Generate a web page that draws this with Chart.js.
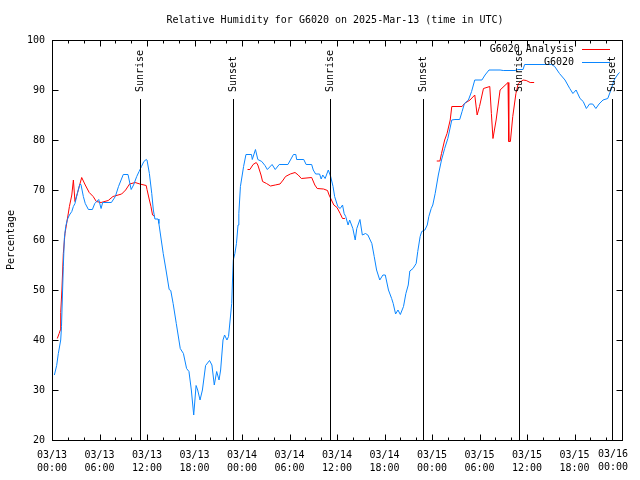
<!DOCTYPE html>
<html lang="en">
<head>
<meta charset="utf-8" />
<title>Relative Humidity for G6020</title>
<script src="https://cdn.jsdelivr.net/npm/chart.js@4.4.1/dist/chart.umd.min.js"></script>
<style>
  html, body { margin: 0; padding: 0; background: #fff; }
  canvas { display: block; }
</style>
</head>
<body>
<canvas id="rh" width="640" height="480"></canvas>
<script>
// hours since 03/13 00:00 UTC
const blueHours = [
  0.3, 0.59, 0.8, 1.1, 1.2, 1.3, 1.43, 1.56, 1.73, 1.94, 2.2, 2.5, 2.7, 2.9, 3.2, 3.5, 3.66, 3.96, 4.2, 4.6, 5.1, 5.4, 5.9, 6.2, 6.4, 7.5, 8.0, 8.4, 9.0, 9.6,
  10.0, 10.3, 10.7, 11.0, 11.3, 11.6, 11.9, 12.0, 12.3, 12.6, 12.8, 13.0, 13.4, 13.5, 13.8, 14.05, 14.4, 14.8, 15.0, 15.3, 15.7, 16.2, 16.6, 17.0, 17.3, 17.6, 17.9,
  18.2, 18.4, 18.7, 19.0, 19.4, 19.9, 20.2, 20.5, 20.8, 21.1, 21.3, 21.6, 21.8, 22.1, 22.3, 22.5, 22.7, 22.8, 22.9, 23.1, 23.3, 23.5, 23.6, 23.8,
  24.2, 24.5, 25.2, 25.3, 25.7, 26.0, 26.5, 26.9, 27.2, 27.8, 28.2, 28.7, 29.8, 30.5, 30.8, 30.9, 31.8, 32.1, 32.8, 33.0, 33.3, 33.8, 34.0, 34.2, 34.5, 34.9,
  35.2, 35.5, 35.7, 36.1, 36.4, 36.7, 36.9, 37.1, 37.4, 37.6, 38.0, 38.3, 38.5, 38.9, 39.2, 39.6, 39.9, 40.4, 40.7, 41.0, 41.4, 41.8, 42.1, 42.5, 42.9,
  43.1, 43.4, 43.7, 44.0, 44.4, 44.7, 45.0, 45.2, 45.6, 46.0, 46.2, 46.5, 46.7, 47.1, 47.4, 47.6, 47.9, 48.1, 48.4, 48.8, 49.2, 49.6, 50.0, 50.5, 50.9,
  51.5, 51.8, 52.1, 52.6, 53.0, 53.4, 54.3, 54.7, 55.2, 56.6, 57.0, 58.5, 58.8, 59.5, 59.7, 63.1, 63.5, 64.1, 64.8, 65.4, 65.8, 66.2, 66.7, 67.1, 67.5,
  67.9, 68.3, 68.7, 69.1, 69.6, 70.2, 70.6, 71.0, 71.5, 71.7
];
const blueValues = [
  33, 34.9, 37.3, 40, 42.7, 48, 54.7, 60.3, 62.7, 64.1, 65, 65.7, 66.7, 67.3, 69.3, 71.1, 71.1, 68.7, 67.3, 66.1, 66.1, 67.3, 68.1, 66.3, 67.5, 67.5, 68.7, 70.7, 73.1, 73.1,
  70.1, 71, 72.7, 73.7, 74.7, 75.7, 76.1, 76, 73.3, 69.3, 66, 64.2, 64.2, 63.3, 60, 57.3, 54, 50.1, 49.9, 47.3, 43.3, 38.3, 37.3, 34.3, 33.7, 30, 25,
  30.9, 30, 28, 30, 34.9, 35.9, 35, 31, 33.7, 32, 34, 40, 41, 40, 40.7, 44, 47.3, 52, 56, 57.3, 59.3, 63, 65.3, 70.7,
  74.7, 77.1, 77.1, 76.1, 78.1, 76.1, 75.7, 74.9, 74.1, 75.1, 74.1, 75.1, 75.1, 77.1, 77.1, 76.1, 76.1, 75.1, 75.1, 74, 73.2, 73.2, 72.2, 73, 72.3, 74,
  72.7, 70.7, 68.7, 66.7, 66.3, 67, 65.3, 64.7, 63, 64, 62.3, 60, 62.3, 64.1, 61, 61.3, 61, 59.3, 56.7, 54, 52, 53, 53, 50, 48.3,
  47.3, 45.2, 46, 45.1, 46.7, 49.3, 51, 53.8, 54.3, 55.3, 57.7, 60.7, 61.7, 62, 63, 64.7, 66.3, 67, 69.3, 73, 76, 78.3, 80.3, 84, 84.1,
  84.1, 85.7, 87.3, 88, 89.7, 92, 92, 93, 94, 94, 93.9, 93.9, 94.1, 94.1, 95.1, 95.1, 94.7, 93.3, 92, 90.3, 89.3, 90, 88.3, 87.7, 86.3,
  87.2, 87.2, 86.3, 87.2, 88, 88.3, 90, 92, 93.2, 93.5
];

// analysis series, null breaks the line between days
const redHours = [
  0.67, 0.9, 1.05, 1.1, 1.25, 1.43, 1.64, 1.85, 2.2, 2.5, 2.7, 2.9, 3.2, 3.75, 4.2, 4.7, 5.2, 5.6, 6.2, 7.1, 7.7, 8.8, 9.3, 9.8, 10.5, 11.1, 11.9, 12.0, 12.3, 12.5, 12.7, 13.0,
  18.0,
  24.7, 25.0, 25.4, 25.8, 26.0, 26.4, 26.6, 27.1, 27.6, 28.2, 28.8, 29.2, 29.5, 30.1, 30.7, 31.1, 31.5, 32.8, 33.2, 33.5, 34.3, 34.8, 35.0, 35.3, 35.6, 36.0, 36.4, 36.7, 37.0,
  42.0,
  48.6, 49.0, 49.2, 49.6, 49.9, 50.3, 50.5, 51.8, 52.1, 52.8, 53.4, 53.7, 54.0, 54.5, 55.3, 55.5, 55.7, 56.1, 56.6, 57.6, 57.7, 57.9, 58.2, 58.6, 58.9, 59.5, 59.9, 60.4, 60.9
];
const redValues = [
  40.3, 41.3, 42, 45.5, 50, 57.3, 61.3, 63.3, 66.7, 69, 72, 67.7, 69.3, 72.5, 71, 69.5, 68.7, 67.7, 67.5, 67.9, 68.7, 69.2, 70, 71.2, 71.5, 71.2, 70.9, 70.1, 68, 66.7, 65, 64.7,
  null,
  74.1, 74.1, 75.1, 75.5, 75, 73, 71.7, 71.3, 70.8, 71, 71.2, 72, 72.7, 73.2, 73.5, 73, 72.3, 72.5, 71, 70.3, 70.2, 69.9, 69, 68, 67, 66.5, 65.3, 64.3, 64.3,
  null,
  75.8, 75.8, 77.3, 80, 81.3, 84, 86.7, 86.7, 87.3, 88, 89, 85, 86.7, 90.3, 90.7, 85.3, 80.3, 84, 90, 91.5, 79.7, 79.7, 84.7, 89.3, 91.3, 92, 91.9, 91.5, 91.5
];

const sunHours = [11.15, 22.87, 35.15, 46.9, 58.99, 70.77];
const sunLabels = ['Sunrise', 'Sunset', 'Sunrise', 'Sunset', 'Sunrise', 'Sunset'];

const xTickLabels = [
  ['03/13', '00:00'], ['03/13', '06:00'], ['03/13', '12:00'], ['03/13', '18:00'],
  ['03/14', '00:00'], ['03/14', '06:00'], ['03/14', '12:00'], ['03/14', '18:00'],
  ['03/15', '00:00'], ['03/15', '06:00'], ['03/15', '12:00'], ['03/15', '18:00'],
  ['03/16', '00:00']
];

const MONO = "'DejaVu Sans Mono', 'Liberation Mono', monospace";

function points(xs, ys) {
  return xs.map((h, i) => ({ x: h, y: ys[i] }));
}

// gnuplot-ish frame: box, inward ticks, sun markers, title, legend
const frame = {
  id: 'frame',
  afterDatasetsDraw(chart) {
    const { ctx, chartArea: a, scales: { x } } = chart;
    ctx.save();
    ctx.strokeStyle = '#000';
    ctx.lineWidth = 1;
    ctx.fillStyle = '#000';
    ctx.font = '10px ' + MONO;
    sunHours.forEach((h, i) => {
      const px = Math.round(x.getPixelForValue(h)) + 0.5;
      ctx.beginPath();
      ctx.moveTo(px, 99);
      ctx.lineTo(px, a.bottom);
      ctx.stroke();
      ctx.save();
      ctx.translate(px, 92);
      ctx.rotate(-Math.PI / 2);
      ctx.textAlign = 'left';
      ctx.textBaseline = 'middle';
      ctx.fillText(sunLabels[i], 0, 0);
      ctx.restore();
    });
    ctx.restore();
  },
  afterDraw(chart) {
    const { ctx, chartArea: a, scales: { x, y } } = chart;
    const L = Math.round(a.left) + 0.5, R = Math.round(a.right) + 0.5;
    const T = Math.round(a.top) + 0.5, B = Math.round(a.bottom) + 0.5;
    ctx.save();
    ctx.strokeStyle = '#000';
    ctx.lineWidth = 1;
    ctx.strokeRect(L, T, R - L, B - T);

    ctx.beginPath();
    y.ticks.forEach(t => {
      const py = Math.round(y.getPixelForValue(t.value)) + 0.5;
      ctx.moveTo(L, py); ctx.lineTo(L + 6, py);
      ctx.moveTo(R, py); ctx.lineTo(R - 6, py);
    });
    x.ticks.forEach(t => {
      const px = Math.round(x.getPixelForValue(t.value)) + 0.5;
      const len = t.value % 6 === 0 ? 6 : 3;
      ctx.moveTo(px, B); ctx.lineTo(px, B - len);
      ctx.moveTo(px, T); ctx.lineTo(px, T + len);
    });
    ctx.stroke();

    ctx.fillStyle = '#000';
    ctx.font = '10px ' + MONO;
    ctx.textAlign = 'center';
    ctx.textBaseline = 'middle';
    ctx.fillText('Relative Humidity for G6020 on 2025-Mar-13 (time in UTC)', 335, 20);

    // last tick label is pulled in from the canvas edge, like the original
    const last = xTickLabels[xTickLabels.length - 1];
    ctx.fillText(last[0], 613, 454);
    ctx.fillText(last[1], 613, 467);

    ctx.save();
    ctx.translate(11, 240);
    ctx.rotate(-Math.PI / 2);
    ctx.fillText('Percentage', 0, 0);
    ctx.restore();

    // legend, top right inside the plot
    ctx.textAlign = 'right';
    chart.data.datasets.forEach((ds, i) => {
      const ly = 49 + i * 13;
      ctx.fillStyle = '#000';
      ctx.fillText(ds.label, 574, ly);
      ctx.strokeStyle = ds.borderColor;
      ctx.beginPath();
      ctx.moveTo(582, ly + 0.5);
      ctx.lineTo(610, ly + 0.5);
      ctx.stroke();
    });
    ctx.restore();
  }
};

new Chart(document.getElementById('rh'), {
  type: 'line',
  data: {
    datasets: [
      {
        label: 'G6020 Analysis',
        data: points(redHours, redValues),
        borderColor: '#ff0000',
        borderWidth: 1,
        pointRadius: 0,
        tension: 0,
        spanGaps: false,
        order: 1
      },
      {
        label: 'G6020',
        data: points(blueHours, blueValues),
        borderColor: '#0a86ff',
        borderWidth: 1,
        pointRadius: 0,
        tension: 0,
        order: 0
      }
    ]
  },
  options: {
    responsive: false,
    animation: false,
    devicePixelRatio: 1,
    layout: { padding: { top: 40, right: 18, left: 0, bottom: 0 } },
    plugins: {
      legend: { display: false },
      title: { display: false },
      tooltip: { enabled: false }
    },
    scales: {
      x: {
        type: 'linear',
        min: 0,
        max: 72,
        afterFit(s) { s.height = 40; s.paddingLeft = 0; s.paddingRight = 0; },
        grid: { display: false, drawTicks: false },
        border: { display: false },
        ticks: {
          stepSize: 2,
          autoSkip: false,
          maxRotation: 0,
          padding: 9,
          color: '#000',
          font: { family: MONO, size: 10, lineHeight: 1.3 },
          callback(v) { return v % 6 === 0 && v < 72 ? xTickLabels[v / 6] : ''; }
        }
      },
      y: {
        min: 20,
        max: 100,
        afterFit(s) { s.width = 52; s.paddingTop = 0; s.paddingBottom = 0; },
        grid: { display: false, drawTicks: false },
        border: { display: false },
        ticks: {
          stepSize: 10,
          padding: 7,
          color: '#000',
          font: { family: MONO, size: 10 }
        }
      }
    }
  },
  plugins: [frame]
});
</script>
</body>
</html>
